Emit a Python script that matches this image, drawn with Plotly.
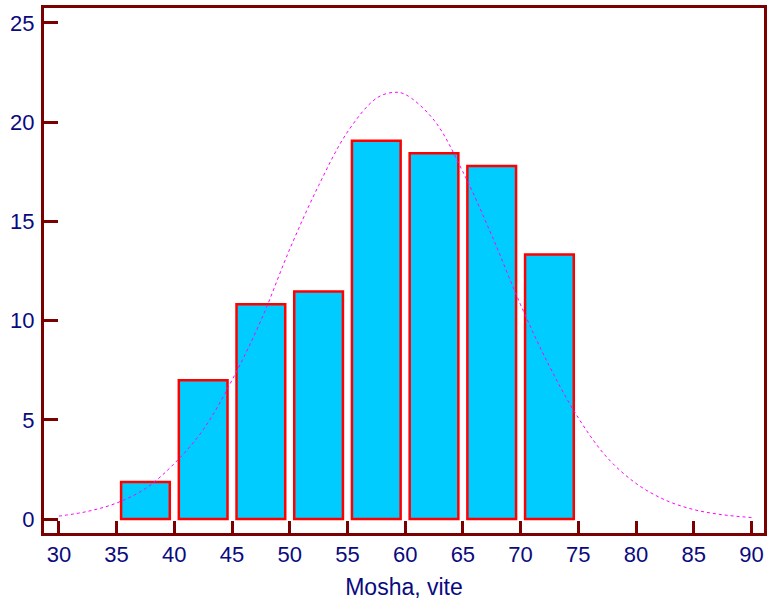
import plotly.graph_objects as go

# Histogram bins (age, years) and relative frequencies (%)
bin_centers = [37.5, 42.5, 47.5, 52.5, 57.5, 62.5, 67.5, 72.5]
bin_values = [1.87, 7.0, 10.83, 11.47, 19.06, 18.43, 17.79, 13.33]

# Fitted normal curve
curve_x = [30, 32.5, 35, 37.5, 40, 42.5, 45, 47.5, 50, 52.5, 55, 57.5, 59, 60,
           62.5, 65, 67.5, 70, 72.5, 75, 77.5, 80, 82.5, 85, 87.5, 90]
curve_y = [0.15, 0.39, 0.81, 1.54, 2.8, 4.5, 7.0, 10.0, 13.6, 16.8, 19.5, 21.2, 21.5, 21.4,
           20.1, 17.5, 14.3, 10.8, 7.7, 5.1, 3.1, 1.8, 0.97, 0.48, 0.22, 0.08]

x_ticks = [30, 35, 40, 45, 50, 55, 60, 65, 70, 75, 80, 85, 90]
y_ticks = [0, 5, 10, 15, 20, 25]

AXIS = "#7b0000"
LABEL = "#0a0a80"
FONT = "Liberation Sans, Arial, sans-serif"

fig = go.Figure()
fig.add_trace(go.Bar(
    x=bin_centers, y=bin_values, width=4.22,
    marker=dict(color="#00ccff", line=dict(color="#ff0000", width=2.5)),
    hoverinfo="x+y",
))
fig.add_trace(go.Scatter(
    x=curve_x, y=curve_y, mode="lines",
    line=dict(color="#ff00ff", width=1, dash="dot", shape="spline"),
))

fig.update_layout(
    width=769, height=603,
    margin=dict(l=44, r=2, t=8, b=70),
    paper_bgcolor="white", plot_bgcolor="white",
    showlegend=False,
    font=dict(family=FONT, size=22, color=LABEL),
    xaxis=dict(
        range=[28.71, 91.09], tickvals=x_ticks, ticktext=[str(v) for v in x_ticks],
        showgrid=False, zeroline=False,
        showline=True, linecolor=AXIS, linewidth=3, mirror=True,
        ticks="inside", ticklen=12, tickwidth=3, tickcolor=AXIS,
        tickfont=dict(family=FONT, size=22, color=LABEL),
        title=dict(text="Mosha, vite", font=dict(family=FONT, size=23, color=LABEL), standoff=13),
    ),
    yaxis=dict(
        range=[-0.70, 25.75], tickvals=y_ticks, ticktext=[str(v) for v in y_ticks],
        showgrid=False, zeroline=False,
        showline=True, linecolor=AXIS, linewidth=3, mirror=True,
        ticks="inside", ticklen=14, tickwidth=3, tickcolor=AXIS,
        ticklabelstandoff=2,
        tickfont=dict(family=FONT, size=22, color=LABEL),
    ),
)

fig.write_html(
    "out.html",
    config={"displayModeBar": False},
    post_script="document.body.style.margin='0';document.body.style.overflow='hidden';",
)
